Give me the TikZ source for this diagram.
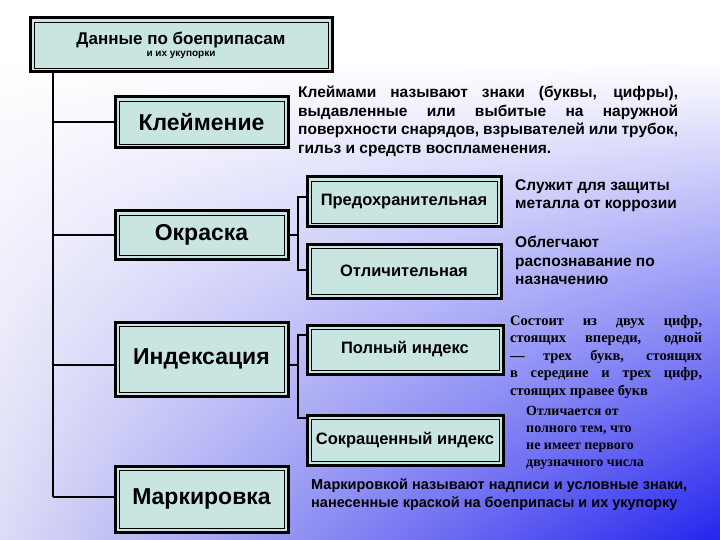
\documentclass[tikz,border=0pt]{standalone}
\usepackage{fontspec}
\usetikzlibrary{shadings}
\setmainfont{Liberation Sans}
\newfontfamily\serifb{Liberation Serif}
\definecolor{boxfill}{HTML}{C9E5E2}
\definecolor{deepblue}{HTML}{2424EE}
\definecolor{lav}{HTML}{DCDCF6}
\begin{document}
\begin{tikzpicture}[x=1pt,y=-1pt,
  ln/.style={line width=2pt},
  txt/.style={anchor=north west,align=justify,inner sep=0pt,font=\bfseries\fontsize{15.5}{18.5}\selectfont}]
\useasboundingbox (0,0) rectangle (720,540);
\fill[white] (0,0) rectangle (720,540);
\shade[upper left=white,upper right=white,lower left=lav,lower right=deepblue] (0,60) rectangle (720,540);
% boxes
\tikzset{bb/.style={draw=black,fill=boxfill,line width=3pt}, bi/.style={draw=black,line width=0.8pt}}
\newcommand\mybox[5]{%
  \path[bb] (#1,#2) rectangle (#3,#4);
  \path[bi] (#1+4,#2+4) rectangle (#3-4,#4-4);
  \node[font=\bfseries,align=center] at ({(#1+#3)/2},{(#2+#4)/2}) {#5};}
\mybox{30}{18}{332}{72}{\fontsize{17}{22}\selectfont Данные по боеприпасам\\и их укупорки}
\node (k) at (115,122) {};
\mybox{115}{97}{288}{148}{\fontsize{23}{26}\selectfont Клеймение}
\node (o) at (115,235) {};
\mybox{115}{211}{288}{259}{\fontsize{23}{26}\selectfont Окраска}
\node (i) at (115,365) {};
\mybox{115}{322}{288}{396}{\fontsize{23}{26}\selectfont Индексация}
\node (m) at (115,497) {};
\mybox{115}{466}{288}{532}{\fontsize{23}{26}\selectfont Маркировка}
\mybox{307}{177}{501}{227}{\fontsize{16.5}{18}\selectfont Предохранительная}
\mybox{307}{244}{501}{298}{\fontsize{16.5}{18}\selectfont Отличительная}
\mybox{307}{325}{503}{374}{\fontsize{16.5}{18}\selectfont Полный индекс}
\mybox{307}{415}{503}{465}{\fontsize{16.5}{18}\selectfont Сокращенный индекс}
% connectors
\coordinate (t1) at (53,72); \coordinate (t2) at (53,497);
\draw[ln] (t1) -- (t2);
\draw[ln] (53,122) -- (k.center);
\draw[ln] (53,235) -- (o.center);
\draw[ln] (53,365) -- (i.center);
\draw[ln] (53,497) -- (m.center);
\draw[ln] (288,235) -- (298,235);
\draw[ln] (307,197) -- (298,197) -- (298,270) -- (307,270);
\draw[ln] (288,365) -- (298,365);
\draw[ln] (307,335) -- (298,335) -- (298,418) -- (307,418);
% texts
\node[txt,text width=380pt] (t1x) at (298,86) {Клеймами называют знаки (буквы, цифры), выдавленные или выбитые на наружной поверхности снарядов, взрывателей или трубок, гильз и средств воспламенения.};
\node[txt,align=left] (t2x) at (515,179) {Служит для защиты\\металла от коррозии};
\node[txt,align=left] (t3x) at (515,236) {Облегчают\\распознавание по\\назначению};
\node[txt,text width=192pt,font=\serifb\bfseries\fontsize{14.5}{17.5}\selectfont] (t4x) at (510,315) {Состоит из двух цифр, стоящих впереди, одной — трех букв, стоящих в середине и трех цифр, стоящих правее букв};
\node[txt,align=left,font=\serifb\bfseries\fontsize{14}{17}\selectfont] (t5x) at (526,406) {Отличается от\\полного тем, что\\не имеет первого\\двузначного числа};
\node[txt,text width=376pt,font=\bfseries\fontsize{14.5}{17.5}\selectfont] (t6x) at (311,479) {Маркировкой называют надписи и условные знаки, нанесенные краской на боеприпасы и их укупорку};
\end{tikzpicture}
\end{document}
